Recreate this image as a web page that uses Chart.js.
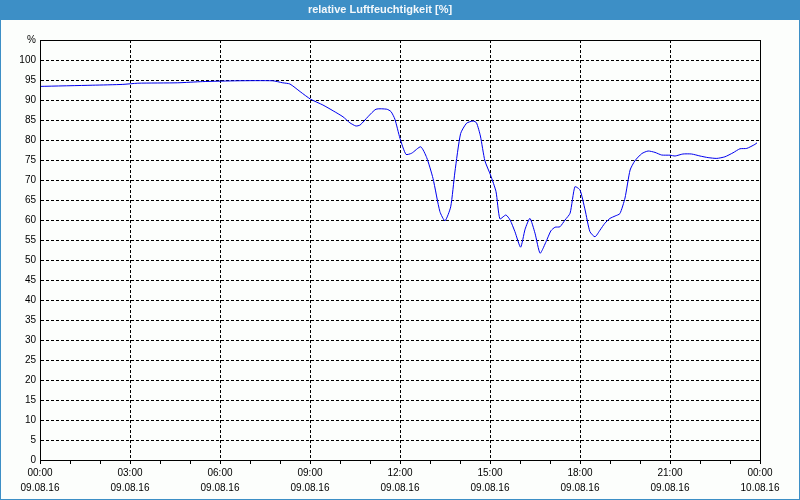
<!DOCTYPE html>
<html>
<head>
<meta charset="utf-8">
<title>relative Luftfeuchtigkeit</title>
<script src="https://cdn.jsdelivr.net/npm/chart.js@4/dist/chart.umd.min.js"></script>
<style>
  html, body { margin: 0; padding: 0; background: #fcfefc; }
  #wrap { width: 800px; height: 500px; position: relative; }
</style>
</head>
<body>
<div id="wrap"><canvas id="chart" width="800" height="500"></canvas></div>
<script>
// relative humidity over one day
const hours = [
  0, 1.76, 2.76, 3.26, 4.59, 5.42, 6.59, 7.76, 8.09, 8.33,
  8.67, 9.02, 9.43, 9.77, 10.1, 10.33, 10.53, 10.67, 10.93, 11.2,
  11.56, 11.7, 11.83, 12.0, 12.2, 12.39, 12.69, 12.89, 13.1, 13.33,
  13.5, 13.69, 13.83, 14.02, 14.22, 14.44, 14.55, 14.68, 14.83, 15.02,
  15.2, 15.33, 15.53, 15.67, 15.83, 16.02, 16.17, 16.33, 16.5, 16.67,
  16.87, 17.03, 17.17, 17.33, 17.5, 17.67, 17.83, 18.0, 18.17, 18.33,
  18.5, 18.67, 18.83, 19.0, 19.17, 19.33, 19.5, 19.67, 19.83, 20.06,
  20.27, 20.5, 20.72, 21.0, 21.17, 21.43, 21.72, 22.0, 22.27, 22.56,
  22.83, 23.1, 23.33, 23.56, 23.83, 23.9
];
const humidity = [
  93.4, 93.7, 93.9, 94.2, 94.3, 94.6, 94.8, 94.8, 94.3, 94.0,
  92.1, 90.2, 88.75, 87.3, 85.8, 84.3, 83.5, 83.75, 85.8, 87.7,
  87.7, 87.1, 85.2, 80.4, 76.4, 76.7, 78.3, 75.6, 70.4, 62.1,
  59.8, 63.3, 72.0, 81.6, 84.2, 84.75, 84.3, 81.0, 74.8, 71.2,
  67.1, 60.3, 61.25, 60.0, 57.1, 53.2, 57.7, 60.4, 56.7, 51.7,
  54.6, 57.3, 58.2, 58.3, 60.0, 61.7, 68.3, 67.5, 62.5, 57.1,
  55.8, 57.5, 59.2, 60.4, 61.0, 61.6, 65.5, 72.5, 74.8, 76.6,
  77.25, 76.9, 76.25, 76.2, 76.0, 76.5, 76.5, 76.0, 75.6, 75.4,
  75.8, 76.8, 77.8, 77.9, 78.9, 79.3
];

// x tick labels every 3 hours
const timeLabels = ["00:00", "03:00", "06:00", "09:00", "12:00", "15:00", "18:00", "21:00", "00:00"];
const dateLabels = ["09.08.16", "09.08.16", "09.08.16", "09.08.16", "09.08.16", "09.08.16", "09.08.16", "09.08.16", "10.08.16"];

const BAR_BLUE = "#3d8fc6";
const PAGE_BG = "#fcfefc";
const FONT = "'Liberation Sans', Tahoma, sans-serif";

const chromePlugin = {
  id: "chrome",
  beforeDraw(chart) {
    const { ctx, width, height } = chart;
    ctx.save();
    ctx.fillStyle = BAR_BLUE;
    ctx.fillRect(0, 0, width, height);
    ctx.fillStyle = PAGE_BG;
    ctx.fillRect(1, 20, width - 2, height - 21);
    ctx.restore();
  },
  afterDraw(chart) {
    const { ctx, chartArea: a } = chart;
    ctx.save();
    ctx.strokeStyle = "#000";
    ctx.lineWidth = 1;
    ctx.strokeRect(Math.round(a.left) + 0.5, Math.round(a.top) + 0.5,
      Math.round(a.right - a.left), Math.round(a.bottom - a.top));
    ctx.restore();
  },
};

new Chart(document.getElementById("chart").getContext("2d"), {
  type: "line",
  data: {
    datasets: [{
      data: hours.map((h, i) => ({ x: h, y: humidity[i] })),
      borderColor: "#0000f0",
      borderWidth: 1,
      pointRadius: 0,
      fill: false,
      tension: 0.2,
    }],
  },
  options: {
    responsive: false,
    animation: false,
    layout: { padding: { left: 0, right: 40, top: 0, bottom: 0 } },
    plugins: {
      legend: { display: false },
      tooltip: { enabled: false },
      title: {
        display: true,
        text: "relative Luftfeuchtigkeit [%]",
        color: "#f4f8fb",
        font: { family: FONT, size: 11, weight: "bold", lineHeight: 1.2 },
        padding: { top: 3, bottom: 23.8 },
      },
    },
    scales: {
      x: {
        type: "linear",
        min: 0,
        max: 24,
        afterFit: (s) => { s.height = 40; },
        ticks: {
          stepSize: 1,
          autoSkip: false,
          maxRotation: 0,
          padding: 2,
          color: "#000",
          font: { family: FONT, size: 10, lineHeight: 1.5 },
          callback: (v) => (v % 3 === 0 ? [timeLabels[v / 3], dateLabels[v / 3]] : ""),
        },
        grid: {
          color: (c) => (c.tick && c.tick.value % 3 === 0 ? "#000" : "rgba(0,0,0,0)"),
          tickColor: "#000",
          tickLength: 4,
        },
        border: { color: "#000", dash: [3, 2] },
      },
      y: {
        min: 0,
        max: 105,
        afterFit: (s) => { s.width = 40; },
        ticks: {
          stepSize: 5,
          padding: 4,
          color: "#000",
          font: { family: FONT, size: 10 },
          callback: (v) => (v === 105 ? "%" : String(v)),
        },
        grid: { color: "#000", drawTicks: false },
        border: { color: "#000", dash: [3, 2] },
      },
    },
  },
  plugins: [chromePlugin],
});
</script>
</body>
</html>
